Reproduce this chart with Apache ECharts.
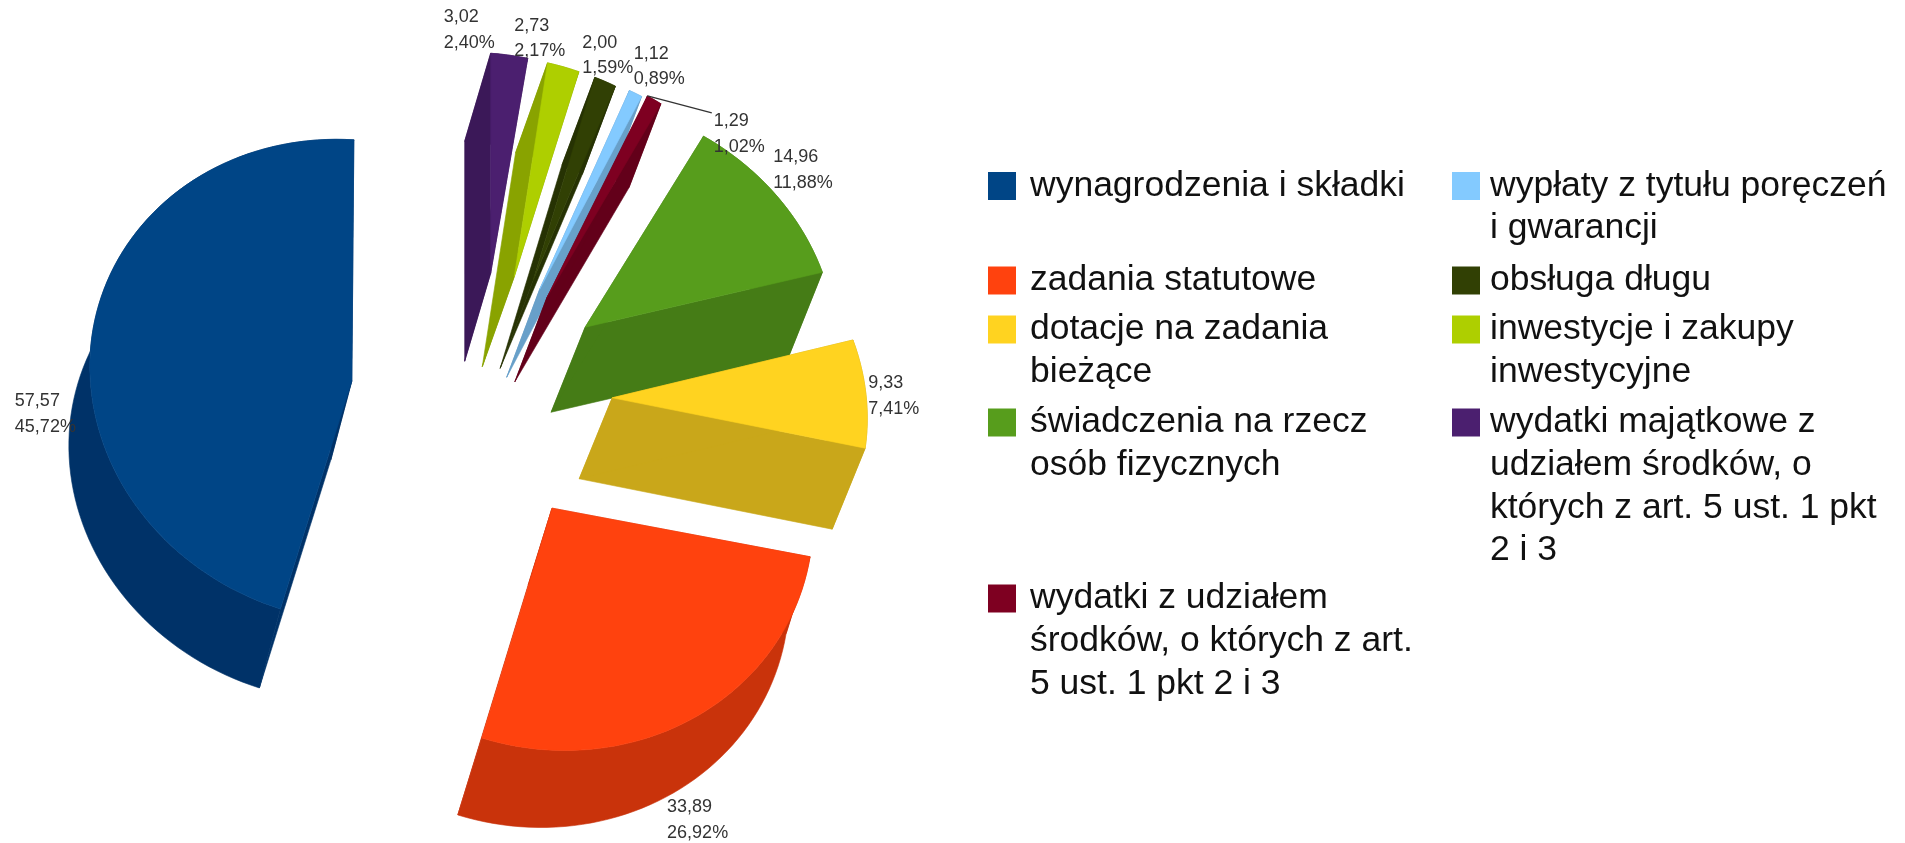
<!DOCTYPE html>
<html><head><meta charset="utf-8">
<style>html,body{margin:0;padding:0;background:#fff}#c{width:1905px;height:843px;filter:blur(0.6px)}</style>
<script src="https://cdn.jsdelivr.net/npm/echarts@6/dist/echarts.min.js"></script>
</head><body><div id="c"></div>
<script>
// ---- data ----
var categories = ['wynagrodzenia i składki','zadania statutowe','dotacje na zadania bieżące','świadczenia na rzecz osób fizycznych','wydatki z udziałem środków, o których z art. 5 ust. 1 pkt 2 i 3','wypłaty z tytułu poręczeń i gwarancji','obsługa długu','inwestycje i zakupy inwestycyjne','wydatki majątkowe z udziałem środków, o których z art. 5 ust. 1 pkt 2 i 3'];
var values = [57.57,33.89,9.33,14.96,1.29,1.12,2.00,2.73,3.02];
var valueLabels = ['57,57','33,89','9,33','14,96','1,29','1,12','2,00','2,73','3,02'];
var shareLabels = ['45,72%','26,92%','7,41%','11,88%','1,02%','0,89%','1,59%','2,17%','2,40%'];
var legendLines = [
 ['wynagrodzenia i składki'],
 ['zadania statutowe'],
 ['dotacje na zadania','bieżące'],
 ['świadczenia na rzecz','osób fizycznych'],
 ['wydatki z udziałem','środków, o których z art.','5 ust. 1 pkt 2 i 3'],
 ['wypłaty z tytułu poręczeń','i gwarancji'],
 ['obsługa długu'],
 ['inwestycje i zakupy','inwestycyjne'],
 ['wydatki majątkowe z','udziałem środków, o','których z art. 5 ust. 1 pkt','2 i 3']
];
// ---- styles ----
var topColors  = ['#004586','#ff420e','#ffd320','#579d1c','#7e0021','#83caff','#314004','#aecf00','#4b1f6f'];
var sideColors = ['#003268','#c9330b','#c9a71a','#457c16','#63001a','#68a0c9','#263203','#89a300','#3b1858'];
// projection of the exploded pie plane onto the page
var centre = [481.8,403], explodeE = [131,5.4], explodeN = [-1,-125.5];
var frames = [
 {E:[262,16],N:[2,-241],D:[-21,79],nudge:[0,0]},
 {E:[261,13],N:[1,-242],D:[-24,77],nudge:[-2,-3]},
 {E:[255,16],N:[-5,-234],D:[-33,81],nudge:[0,0]},
 {E:[251,17],N:[-4,-228],D:[-34,85],nudge:[3,0]},
 {E:[235,18],N:[0,-232],D:[-32,84],nudge:[6,4]},
 {E:[238,18],N:[0,-222],D:[-33,88],nudge:[6,-1]},
 {E:[218,18],N:[0,-217],D:[-33,88],nudge:[9,-6]},
 {E:[235,18],N:[-2,-219],D:[-32,90],nudge:[5,-5]},
 {E:[247,17],N:[0,-220],D:[-26,88],nudge:[0,-5]}
];
var labelOffsets = [[-337,33],[115,312],[256,-2],[188,-157],[167,-164],[94,-223],[49,-225],[0,-238],[-47,-243]];
// legend grid: [swatch left, swatch centre y, gap to text]
var legendSlots = [[988,182,9],[988,276.5,9],[988,325.5,9],[988,418.5,9],[988,594.5,9],[1452,182,5],[1452,276.5,5],[1452,325.5,5],[1452,418.5,5]];
var total = values.reduce(function(a,b){return a+b},0);
var LEGEND_LH = 42.7;

function startFraction(i){var s=0;for(var k=0;k<i;k++)s+=values[k];return s/total;}
function dir(f){var a=f*2*Math.PI;return [-Math.sin(a),Math.cos(a)];}
function renderSlice(i){
  return function(params,api){
    var share = api.value(0)/total, s = startFraction(i), e = s+share, m = (s+e)/2;
    var f = frames[i], E=f.E, N=f.N, D=f.D;
    var md = dir(m);
    var depthOrder = (categories.length-i)*10;
    var apex = [centre[0]+md[0]*explodeE[0]+md[1]*explodeN[0]+f.nudge[0],
                centre[1]+md[0]*explodeE[1]+md[1]*explodeN[1]+f.nudge[1]];
    var arc = [], steps = Math.max(2,Math.ceil(share*180));
    for (var k=0;k<=steps;k++){
      var d = dir(s+share*k/steps);
      arc.push([apex[0]+d[0]*E[0]+d[1]*N[0], apex[1]+d[0]*E[1]+d[1]*N[1]]);
    }
    var shift = function(p){return [p[0]+D[0],p[1]+D[1]];};
    var topFace = [apex].concat(arc);
    var sideStyle = {fill:sideColors[i],stroke:sideColors[i],lineWidth:0.6};
    var kids = [];
    function wall(points){
      kids.push({type:'polygon',z2:depthOrder,shape:{points:points.concat(points.slice().reverse().map(shift))},style:sideStyle});
    }
    wall(arc);
    wall([apex,arc[0]]);
    wall([apex,arc[arc.length-1]]);
    kids.push({type:'polygon',z2:depthOrder+1,shape:{points:topFace},style:{fill:topColors[i],stroke:topColors[i],lineWidth:0.6}});
    var off = labelOffsets[i], lx = apex[0]+off[0], ly = apex[1]+off[1];
    kids.push({type:'text',z2:1000,style:{x:lx,y:ly,text:valueLabels[i]+'\n'+shareLabels[i],fill:'#333',
      font:'18px "Liberation Sans"',lineHeight:25.5,textAlign:'left',textVerticalAlign:'middle'}});
    if (i===4){
      var a0 = arc[arc.length-1];
      kids.push({type:'polyline',z2:999,shape:{points:[a0,[lx-2,ly-21]]},style:{stroke:'#333',lineWidth:1.3,fill:null}});
    }
    return {type:'group',children:kids};
  };
}
var series = categories.map(function(name,i){
  return {type:'custom',name:name,coordinateSystem:'none',z:2,silent:true,animation:false,
    itemStyle:{color:topColors[i]},data:[[values[i]]],renderItem:renderSlice(i)};
});
var legends = categories.map(function(name,i){
  var lines = legendLines[i], pad = [];
  for (var k=1;k<lines.length;k++) pad.push('');
  var text = pad.concat(lines).join('\n'), n = pad.length+lines.length;
  return {left:legendSlots[i][0],top:legendSlots[i][1]-n*LEGEND_LH/2,padding:0,orient:'vertical',
    icon:'rect',itemWidth:28,itemHeight:28,selectedMode:false,
    data:[{name:name,icon:'rect',itemStyle:{color:topColors[i]}}],
    formatter:function(){return text;},
    textStyle:{fontFamily:'"Liberation Sans"',fontSize:35.5,lineHeight:LEGEND_LH,color:'#111',padding:[8,0,0,legendSlots[i][2]]}};
});
var chart = echarts.init(document.getElementById('c'),null,{renderer:'canvas'});
chart.setOption({backgroundColor:'#fff',animation:false,legend:legends,series:series});
</script></body></html>
